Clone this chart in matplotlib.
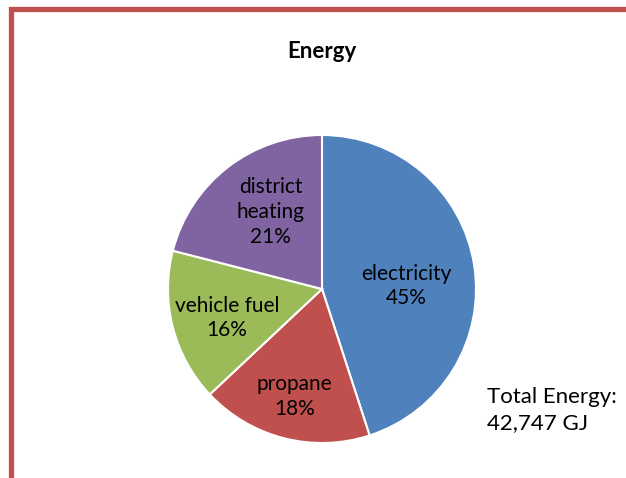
import matplotlib.pyplot as plt
from matplotlib.patches import Rectangle
import numpy as np

# energy split by source
sources = ["electricity", "propane", "vehicle fuel", "district\nheating"]
shares = [45, 18, 16, 21]
colors = ["#4F81BD", "#C0504D", "#9BBB59", "#8064A2"]
total_text = "Total Energy:\n42,747 GJ"

# label placement: radius fraction and angle nudge (deg) from the wedge middle
label_dist = [0.55, 0.72, 0.645, 0.60]
label_turn = [-7, 0, 2.6, -4]

plt.rcParams["font.family"] = ["Lato", "DejaVu Sans"]

fig = plt.figure(figsize=(6.26, 4.78), dpi=100)
fig.patch.set_facecolor("white")

# chart frame, runs off the right and bottom edges
fig.patches.append(Rectangle((11 / 626, -0.1), 1.2, 1 - 9.5 / 478 + 0.1,
                             transform=fig.transFigure, fill=False,
                             edgecolor="#C0504D", linewidth=3.8))

ax = fig.add_axes([168 / 626, 35 / 478, 308 / 626, 308 / 478])
wedges, _ = ax.pie(shares, colors=colors, startangle=90, counterclock=False,
                   wedgeprops=dict(edgecolor="white", linewidth=1.5))
ax.set_xlim(-1, 1)
ax.set_ylim(-1, 1)
ax.set_aspect("equal")

for w, name, val, d, t in zip(wedges, sources, shares, label_dist, label_turn):
    mid = np.deg2rad((w.theta1 + w.theta2) / 2 + t)
    ax.text(d * np.cos(mid), d * np.sin(mid), f"{name}\n{val}%",
            ha="center", va="center", fontsize=15, linespacing=1.3)

fig.text(322 / 626, 1 - 51 / 478, "Energy", ha="center", va="center",
         fontsize=16, fontweight="bold")
fig.text(487 / 626, 1 - 410 / 478, total_text, ha="left", va="center",
         fontsize=16, linespacing=1.35)

fig.savefig("out.png", dpi=100)
